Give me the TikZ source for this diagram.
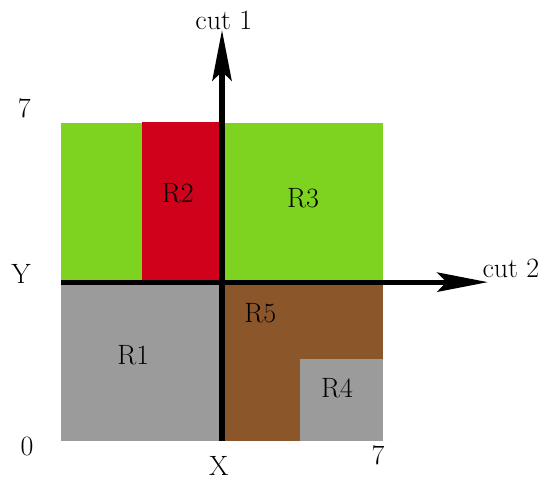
\documentclass[tikz,border=0pt]{standalone}
\usetikzlibrary{arrows.meta}
\definecolor{leafgreen}{HTML}{7ED321}
\definecolor{cutred}{HTML}{D0021B}
\definecolor{soilbrown}{HTML}{8B572A}
\definecolor{stonegray}{HTML}{9B9B9B}
\tikzset{
  region/.style={draw=none},
  cutline/.style={line width=3.1pt, -{Stealth[length=1.1cm, width=0.42cm, inset=0.2cm]}},
  lbl/.style={font=\LARGE, inner sep=0pt}
}

\begin{document}
\begin{tikzpicture}[y=0.987cm]
  \useasboundingbox (-1.326,-0.837) rectangle (10.478,9.714);
  % regions
  \fill[region, leafgreen] (0,3.5) rectangle (7,7);
  \fill[region, cutred] (1.77,3.5) rectangle (3.5,7.02);
  \fill[region, stonegray] (0,0) rectangle (3.5,3.5);
  \fill[region, soilbrown] (3.5,0) rectangle (7,3.5);
  \fill[region, stonegray] (5.2,0) rectangle (7,1.8);
  \node[lbl] (r1) at (1.57,1.89) {R1};
  \node[lbl] (r2) at (2.54,5.46) {R2};
  \node[lbl] (r3) at (5.26,5.35) {R3};
  \node[lbl] (r4) at (6.0,1.17) {R4};
  \node[lbl] (r5) at (4.33,2.82) {R5};
  % cuts
  \coordinate (xbase) at (3.5,0);
  \coordinate (xtip) at (3.5,9.05);
  \coordinate (ybase) at (0,3.5);
  \coordinate (ytip) at (9.28,3.5);
  \draw[cutline] (xbase) -- (xtip);
  \draw[cutline] (ybase) -- (ytip);
  \node[lbl] (cutone) at (3.54,9.27) {cut 1};
  \node[lbl] (cuttwo) at (9.78,3.81) {cut 2};
  % axis labels
  \node[lbl] (origin) at (-0.74,-0.13) {0};
  \node[lbl] (ymax) at (-0.80,7.33) {7};
  \node[lbl] (ylabel) at (-0.87,3.68) {Y};
  \node[lbl] (xlabel) at (3.43,-0.55) {X};
  \node[lbl] (xmax) at (6.89,-0.31) {7};
\end{tikzpicture}
\end{document}
